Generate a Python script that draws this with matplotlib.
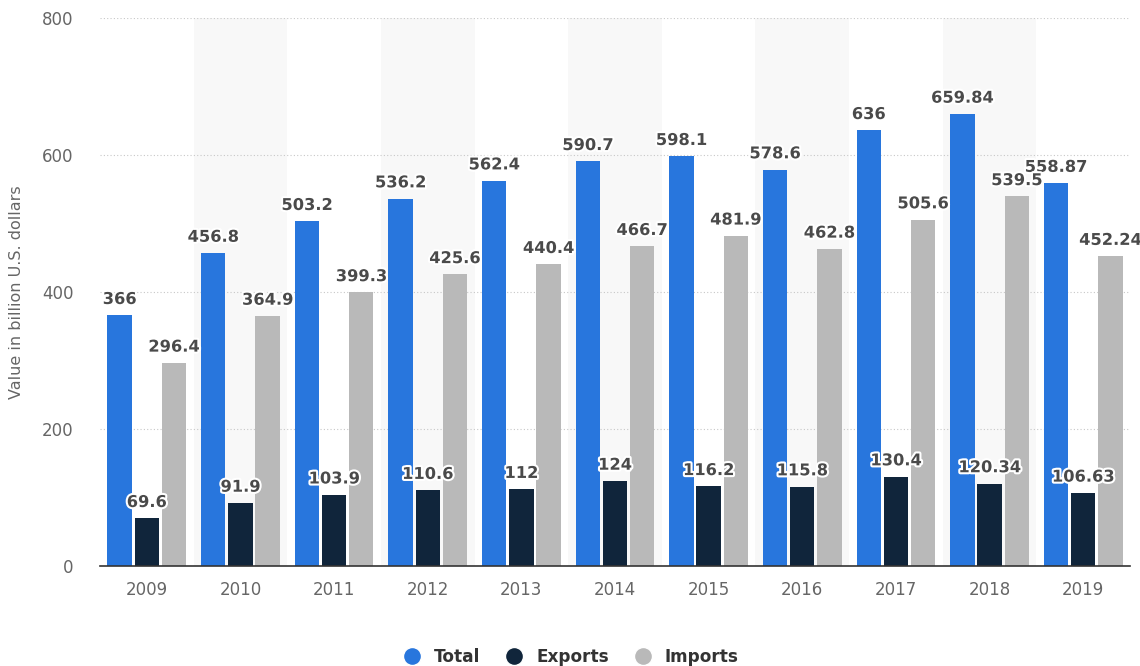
import numpy as np
import matplotlib.pyplot as plt
import matplotlib.patheffects as pe
from matplotlib.lines import Line2D

years = ["2009", "2010", "2011", "2012", "2013", "2014", "2015", "2016", "2017", "2018", "2019"]
total = [366, 456.8, 503.2, 536.2, 562.4, 590.7, 598.1, 578.6, 636, 659.84, 558.87]
exports = [69.6, 91.9, 103.9, 110.6, 112, 124, 116.2, 115.8, 130.4, 120.34, 106.63]
imports = [296.4, 364.9, 399.3, 425.6, 440.4, 466.7, 481.9, 462.8, 505.6, 539.5, 452.24]

series = [
    ("Total", total, "#2876dd"),
    ("Exports", exports, "#10253b"),
    ("Imports", imports, "#b9b9b9"),
]


def main():
    fig = plt.figure(figsize=(11.4, 6.66), dpi=100)
    ax = fig.add_axes([100 / 1140, 100 / 666, 1030 / 1140, 548 / 666])

    x = np.arange(len(years))
    width = 0.26
    offsets = [-0.29, 0.0, 0.29]

    # alternating background bands
    for i in x:
        if i % 2 == 1:
            ax.axvspan(i - 0.5, i + 0.5, color="#f8f8f8", zorder=0, lw=0)

    outline = [pe.withStroke(linewidth=3, foreground="white")]
    for (name, vals, color), off in zip(series, offsets):
        ax.bar(x + off, vals, width=width, color=color, zorder=3, label=name)
        for xi, v in zip(x + off, vals):
            ax.annotate(f"{v:g}", (xi, v), xytext=(0, 6), textcoords="offset points",
                        ha="center", va="bottom", fontsize=11.7, fontweight="bold",
                        color="#4a4a4a", path_effects=outline, zorder=5)

    ax.set_xlim(-0.5, len(years) - 0.5)
    ax.set_ylim(0, 800)
    ax.set_yticks([0, 200, 400, 600, 800])
    ax.set_xticks(x)
    ax.set_xticklabels(years)
    ax.tick_params(axis="both", length=0, labelsize=12, labelcolor="#666666")
    ax.tick_params(axis="x", pad=11)
    ax.tick_params(axis="y", pad=19)
    ax.yaxis.grid(True, linestyle=(0, (1, 2)), color="#c8c8c8", lw=0.8, zorder=1)
    for s in ["top", "right", "left"]:
        ax.spines[s].set_visible(False)
    ax.spines["bottom"].set_color("#333333")
    ax.spines["bottom"].set_linewidth(1.2)
    ax.spines["bottom"].set_zorder(4)

    fig.text(17 / 1140, 1 - 292 / 666, "Value in billion U.S. dollars",
             rotation=90, ha="center", va="center", fontsize=11.5, color="#666666")

    handles = [Line2D([0], [0], marker="o", color="w", markerfacecolor=c, markersize=13, lw=0)
               for _, _, c in series]
    leg = fig.legend(handles, [n for n, _, _ in series], loc="center", ncol=3,
                     bbox_to_anchor=(567 / 1140, 1 - 657 / 666), frameon=False,
                     handletextpad=0.3, columnspacing=1.0, prop={"size": 12.2, "weight": "bold"})
    for t in leg.get_texts():
        t.set_color("#333333")

    fig.savefig("out.png", dpi=100)
    plt.close(fig)


if __name__ == "__main__":
    main()
